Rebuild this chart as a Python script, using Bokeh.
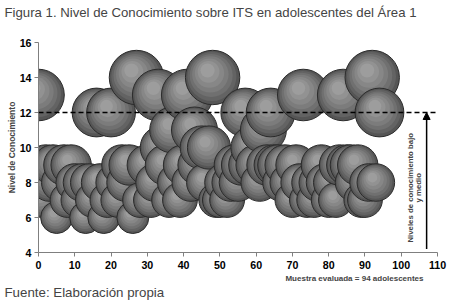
from bokeh.plotting import figure
from bokeh.models import ColumnDataSource, Span, Arrow, NormalHead, Label, FixedTicker, Range1d, Title
from bokeh.embed import file_html
from bokeh.resources import INLINE

# ---- data ----
x_vals = [0, 1, 2, 3, 4, 5, 6, 7, 8, 9, 10, 11, 12, 13, 14, 15, 16, 17, 18, 19,
          20, 21, 22, 23, 24, 25, 26, 27, 28, 30, 31, 32, 33, 34, 35, 36, 37, 38, 39,
          40, 41, 42, 43, 44, 45, 46, 47, 48, 49, 50, 51, 52, 53, 54, 55, 56, 57, 58,
          59, 60, 61, 62, 63, 64, 65, 66, 67, 68, 69, 70, 71, 72, 73, 74, 75, 76, 77,
          78, 79, 80, 81, 82, 83, 84, 85, 86, 87, 88, 89, 90, 91, 92, 93, 94]
y_vals = [13, 7, 9, 8, 9, 6, 8, 9, 7, 9, 8, 7, 8, 6, 8, 7, 12, 8, 6, 7,
          12, 8, 7, 9, 8, 9, 6, 14, 7, 9, 7, 8, 13, 10, 9, 7, 11, 8, 7,
          9, 13, 8, 11, 9, 10, 8, 10, 14, 7, 7, 8, 7, 8, 9, 8, 9, 12, 9,
          10, 9, 8, 11, 9, 12, 9, 9, 8, 9, 8, 7, 9, 8, 13, 7, 8, 7, 8,
          9, 8, 7, 8, 7, 9, 13, 9, 9, 8, 9, 7, 7, 8, 14, 8, 12]
bubble_size = list(y_vals)  # bubble size equals the score
x_ticks = list(range(0, 111, 10))
y_ticks = list(range(4, 17, 2))
threshold = 12
arrow_x = 107
title_text = "Figura 1. Nivel de Conocimiento sobre ITS en adolescentes del Área 1"
source_text = "Fuente: Elaboración propia"
sample_text = "Muestra evaluada = 94 adolescentes"
arrow_text_1 = "Niveles de conocimiento bajo"
arrow_text_2 = "y medio"

FONT = "Liberation Sans"
W, H = 450, 308
ML, MR, MT, MB = 38, 13, 42, 56
frame_w = W - ML - MR
frame_h = H - MT - MB

p = figure(width=W, height=H, x_range=Range1d(0, 110), y_range=Range1d(4, 16),
           output_backend="svg", toolbar_location=None,
           min_border_left=ML, min_border_right=MR, min_border_top=MT, min_border_bottom=MB)
p.outline_line_color = None
p.grid.visible = False
p.background_fill_color = "white"
p.border_fill_color = "white"

for ax in (p.xaxis, p.yaxis):
    ax.minor_tick_line_color = None
    ax.major_tick_in = 0
    ax.major_tick_out = 4
    ax.axis_line_color = "#7f7f7f"
    ax.major_tick_line_color = "#7f7f7f"
    ax.major_label_text_font = FONT
    ax.major_label_text_font_style = "bold"
    ax.major_label_text_font_size = "8pt"
    ax.major_label_text_color = "black"
p.xaxis.ticker = FixedTicker(ticks=x_ticks)
p.yaxis.ticker = FixedTicker(ticks=y_ticks)
p.xaxis.major_label_standoff = 4
p.yaxis.major_label_standoff = 3
p.yaxis.axis_label = "Nivel de Conocimiento"
p.yaxis.axis_label_text_font = FONT
p.yaxis.axis_label_text_font_style = "bold"
p.yaxis.axis_label_text_font_size = "8.5px"
p.yaxis.axis_label_standoff = 0

# ---- titles (top and bottom texts); a blank spacer title sits next to the frame
p.add_layout(Title(text=" ", text_font_size="1px", standoff=18), "above")
p.add_layout(Title(text=title_text, align="left", offset=-34, text_font=FONT,
                   text_font_size="13.2px", text_font_style="normal",
                   vertical_align="top", standoff=0), "above")
p.add_layout(Title(text=sample_text, align="right", offset=14, text_font=FONT,
                   text_font_size="8px", text_font_style="bold", standoff=0), "below")
p.add_layout(Title(text=source_text, align="left", offset=-34, text_font=FONT,
                   text_font_size="13.3px", text_font_style="normal", standoff=0), "below")

# ---- bubbles with layered shading (one source so each bubble is fully drawn in order)
px_x = frame_w / 110.0
px_y = frame_h / 12.0
fracs = [1.0, 0.9, 0.79, 0.67, 0.54, 0.40, 0.26]
cols = ["#555555", "#636363", "#707070", "#7c7c7c", "#878787", "#929292", "#9d9d9d"]
bx, by, bs, bf, bl = [], [], [], [], []
for xv, yv, sv in zip(x_vals, y_vals, bubble_size):
    r = 16 + 1.4 * (sv - 6)
    for k, (f, c) in enumerate(zip(fracs, cols)):
        off = (1 - f) * r
        bx.append(xv - 0.25 * off / px_x)
        by.append(yv + 0.35 * off / px_y)
        bs.append(2 * r * f)
        bf.append(c)
        bl.append(1.0 if k == 0 else 0.0)
src = ColumnDataSource(dict(x=bx, y=by, size=bs, fill=bf, la=bl))
p.scatter("x", "y", source=src, marker="circle", size="size", fill_color="fill",
          line_color="#2b2b2b", line_alpha="la", line_width=1)

# ---- threshold line and arrow
p.add_layout(Span(location=threshold, dimension="width", line_color="black",
                  line_dash="5 3", line_width=1.5))
p.add_layout(Arrow(x_start=arrow_x, y_start=4.2, x_end=arrow_x, y_end=threshold,
                   line_color="black", line_width=1.5,
                   end=NormalHead(size=7, fill_color="black", line_color="black")))
p.add_layout(Label(x=102.6, y=7.7, text=arrow_text_1, angle=90, angle_units="deg",
                   text_font=FONT, text_font_style="bold", text_font_size="7.8px",
                   text_align="center", text_baseline="middle"))
p.add_layout(Label(x=104.8, y=7.7, text=arrow_text_2, angle=90, angle_units="deg",
                   text_font=FONT, text_font_style="bold", text_font_size="7.8px",
                   text_align="center", text_baseline="middle"))

open("out.html", "w").write(file_html(p, INLINE))
